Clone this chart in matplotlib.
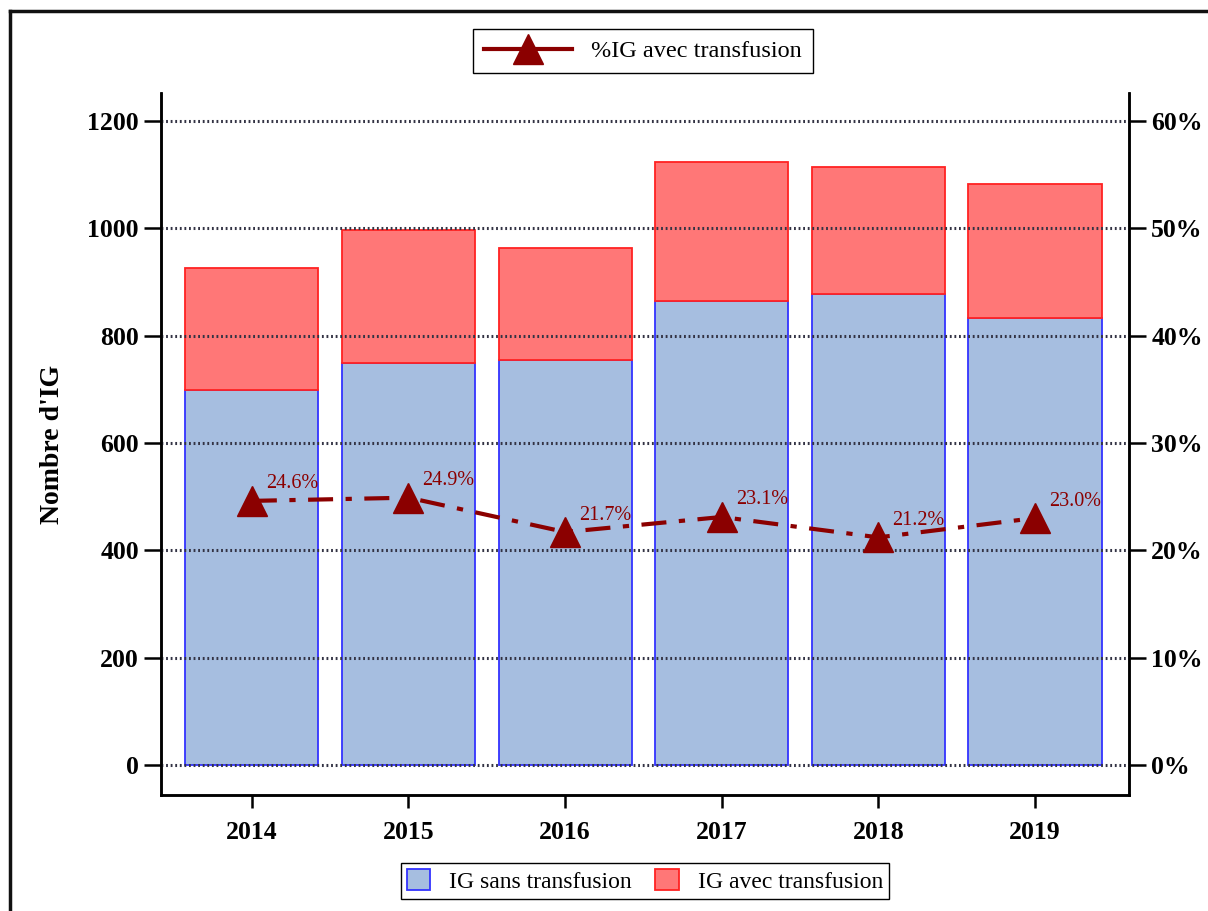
import numpy as np
import matplotlib.pyplot as plt
from matplotlib.lines import Line2D
from matplotlib.patches import Patch

plt.rcParams.update({
    "font.family": ["Liberation Serif", "DejaVu Serif"],
    "font.size": 16,
})

years = ["2014", "2015", "2016", "2017", "2018", "2019"]
ig_sans = [698, 749, 754, 864, 878, 833]
ig_avec = [228, 248, 209, 260, 236, 249]
pct_avec = [24.6, 24.9, 21.7, 23.1, 21.2, 23.0]

W, H = 1208, 911
fig = plt.figure(figsize=(W / 100, H / 100), dpi=100)
ax = fig.add_axes([161 / W, 1 - 795 / H, (1129 - 161) / W, (795 - 93) / H])
ax2 = ax.twinx()

x = np.arange(len(years))
ax.bar(x, ig_sans, width=0.85, color="#a6bee0", edgecolor="#3333ff",
       linewidth=1.3, zorder=2)
ax.bar(x, ig_avec, width=0.85, bottom=ig_sans, color="#ff7777",
       edgecolor="#ff2222", linewidth=1.3, zorder=2)

ax.set_xlim(-0.58, 5.6)
ax.set_ylim(-56, 1252)
ax.set_yticks(np.arange(0, 1201, 200))
ax.set_xticks(x)
ax.set_xticklabels(years)
ax.yaxis.grid(True, linestyle=(0, (0.6, 0.9)), color="#333344", linewidth=2.2, zorder=3)
ax.set_axisbelow(False)
ax.set_ylabel("Nombre d'IG", fontsize=20, fontweight="bold", labelpad=16)

ax2.set_ylim(-56 / 20, 1252 / 20)
ax2.set_yticks(np.arange(0, 61, 10))
ax2.set_yticklabels([f"{v}%" for v in range(0, 61, 10)])
ax2.plot(x, pct_avec, color="#8b0000", linestyle=(0, (6, 3, 1.5, 3)), linewidth=3,
         marker="^", markersize=22, zorder=4)
for xi, p in zip(x, pct_avec):
    ax2.annotate(f"{p:.1f}%", (xi, p), xytext=(10, 9), textcoords="offset points",
                 color="#8b0000", fontsize=14.5)

for a in (ax, ax2):
    a.spines["top"].set_visible(False)
    for s in ("left", "right", "bottom"):
        a.spines[s].set_linewidth(1.8)
    a.tick_params(width=1.8, length=12, labelsize=18.5)
    for lab in a.get_xticklabels() + a.get_yticklabels():
        lab.set_fontweight("bold")
ax.tick_params(axis="x", length=9, pad=10)
ax.tick_params(axis="y", pad=4)
ax2.tick_params(axis="y", pad=4)

# legend for the percentage line, above the plot
h_line = Line2D([], [], color="#8b0000", linewidth=3, marker="^", markersize=22)
fig.legend([h_line], ["%IG avec transfusion"], loc="center",
           bbox_to_anchor=(643 / W, 1 - 51 / H), fancybox=False, edgecolor="black",
           framealpha=1, fontsize=17.5, handlelength=3.6, borderpad=0.45,
           handletextpad=0.8, borderaxespad=0.2)

# legend for the stacked bars, below the plot
h_bars = [Patch(facecolor="#a6bee0", edgecolor="#3333ff", linewidth=1.3),
          Patch(facecolor="#ff7777", edgecolor="#ff2222", linewidth=1.3)]
leg = fig.legend(h_bars, ["IG sans transfusion", "IG avec transfusion"], loc="center",
                 bbox_to_anchor=(645 / W, 1 - 881 / H), ncol=2, fancybox=False,
                 edgecolor="black", framealpha=1, fontsize=17, handlelength=1.0,
                 handleheight=1.0, borderpad=0.25, columnspacing=1.0)

# outer frame (left and top edges)
fig.add_artist(Line2D([10 / W, 10 / W], [0, 1 - 11 / H], color="#111111",
                      linewidth=2.5, transform=fig.transFigure))
fig.add_artist(Line2D([10 / W, 1], [1 - 11 / H, 1 - 11 / H], color="#111111",
                      linewidth=2.5, transform=fig.transFigure))

fig.savefig("out.png", dpi=100)
